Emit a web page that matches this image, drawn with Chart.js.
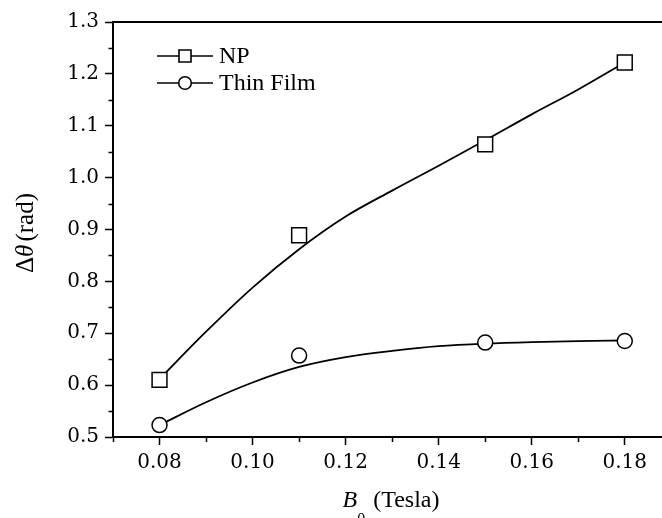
<!DOCTYPE html>
<html>
<head>
<meta charset="utf-8">
<script src="https://cdn.jsdelivr.net/npm/chart.js@4.4.1/dist/chart.umd.min.js"></script>
<style>
  html, body { margin: 0; padding: 0; background: #fff; overflow: hidden; }
  #wrap { width: 662px; height: 518px; }
</style>
</head>
<body>
<div id="wrap"><canvas id="c" width="662" height="518"></canvas></div>
<script>
// ---- data ----
const seriesNames = ['NP', 'Thin Film'];
const measuredB = [0.08, 0.11, 0.15, 0.18];
const npValues = [0.610, 0.889, 1.064, 1.222];
const filmValues = [0.523, 0.657, 0.682, 0.685];

// fitted curves at 0.01 T steps
const fitB = [0.08, 0.09, 0.10, 0.11, 0.12, 0.13, 0.14, 0.15, 0.16, 0.17, 0.18];
const npFit = [0.612, 0.703, 0.788, 0.862, 0.925, 0.975, 1.023, 1.072, 1.122, 1.170, 1.222];
const filmFit = [0.523, 0.567, 0.605, 0.635, 0.654, 0.666, 0.675, 0.680, 0.683, 0.685, 0.686];

// axis ticks
const xTickValues = [0.08, 0.10, 0.12, 0.14, 0.16, 0.18];
const xMinorTicks = [0.07, 0.09, 0.11, 0.13, 0.15, 0.17];
const yTickValues = [0.5, 0.6, 0.7, 0.8, 0.9, 1.0, 1.1, 1.2, 1.3];
const yMinorTicks = [0.55, 0.65, 0.75, 0.85, 0.95, 1.05, 1.15, 1.25];

const toPts = (xs, ys) => xs.map((x, i) => ({ x: x, y: ys[i] }));

const TICK_FONT = { family: 'DejaVu Serif', size: 20 };
const SERIF = '"Liberation Serif", "Times New Roman", serif';

const decorPlugin = {
  id: 'decor',
  afterDraw(chart) {
    const ctx = chart.ctx;
    const ca = chart.chartArea;
    const xs = chart.scales.x, ys = chart.scales.y;
    ctx.save();
    ctx.strokeStyle = '#000';
    ctx.fillStyle = '#000';
    // top frame line
    ctx.lineWidth = 2;
    ctx.beginPath();
    ctx.moveTo(ca.left - 1, ca.top);
    ctx.lineTo(chart.width, ca.top);
    ctx.stroke();
    // minor ticks
    ctx.lineWidth = 1.5;
    ctx.beginPath();
    xMinorTicks.forEach(v => {
      const px = Math.round(xs.getPixelForValue(v)) + 0.5;
      ctx.moveTo(px, ca.bottom);
      ctx.lineTo(px, ca.bottom + 5);
    });
    yMinorTicks.forEach(v => {
      const py = Math.round(ys.getPixelForValue(v)) + 0.5;
      ctx.moveTo(ca.left, py);
      ctx.lineTo(ca.left - 4.5, py);
    });
    ctx.stroke();

    // legend
    const rows = [
      { name: seriesNames[0], style: 'rect', y: 56 },
      { name: seriesNames[1], style: 'circle', y: 83 }
    ];
    rows.forEach(r => {
      ctx.lineWidth = 1.6;
      ctx.beginPath();
      ctx.moveTo(157, r.y);
      ctx.lineTo(213, r.y);
      ctx.stroke();
      ctx.fillStyle = '#fff';
      ctx.beginPath();
      if (r.style === 'rect') {
        ctx.rect(179, r.y - 6, 12, 12);
      } else {
        ctx.arc(185, r.y, 6.3, 0, Math.PI * 2);
      }
      ctx.fill();
      ctx.stroke();
      ctx.fillStyle = '#000';
      ctx.font = '24px ' + SERIF;
      ctx.textBaseline = 'middle';
      ctx.textAlign = 'left';
      ctx.fillText(r.name, 219, r.y + 1);
    });

    // x axis title: B0 (Tesla)
    const fB = 'italic 24px ' + SERIF;
    const fSub = '16px ' + SERIF;
    const fN = '24px ' + SERIF;
    ctx.textBaseline = 'alphabetic';
    ctx.font = fB; const wB = ctx.measureText('B').width;
    ctx.font = fSub; const wS = ctx.measureText('0').width;
    ctx.font = fN; const wT = ctx.measureText(' (Tesla)').width;
    const total = wB + wS + 2 + wT;
    let x0 = 391 - total / 2;
    const base = 507;
    ctx.font = fB; ctx.fillText('B', x0, base); x0 += wB;
    ctx.font = fSub; ctx.fillText('0', x0, base + 17); x0 += wS + 2;
    ctx.font = fN; ctx.fillText(' (Tesla)', x0, base);

    // y axis title: Δθ(rad)
    ctx.save();
    ctx.translate(26, 233);
    ctx.rotate(-Math.PI / 2);
    ctx.textBaseline = 'middle';
    const fY = '25px ' + SERIF, fYi = 'italic 25px ' + SERIF;
    ctx.font = fY; const w1 = ctx.measureText('\u0394').width;
    ctx.font = fYi; const w2 = ctx.measureText('\u03B8').width;
    ctx.font = fY; const w3 = ctx.measureText('(rad)').width;
    let tx = -(w1 + w2 + 3 + w3) / 2;
    ctx.font = fY; ctx.fillText('\u0394', tx, 0); tx += w1;
    ctx.font = fYi; ctx.fillText('\u03B8', tx, 0); tx += w2 + 3;
    ctx.font = fY; ctx.fillText('(rad)', tx, 0);
    ctx.restore();

    ctx.restore();
  }
};

new Chart(document.getElementById('c'), {
  type: 'line',
  data: {
    datasets: [
      {
        label: seriesNames[0] + ' data',
        data: toPts(measuredB, npValues),
        showLine: false,
        pointStyle: 'rect',
        pointRadius: 10.5,
        pointHoverRadius: 10.5,
        pointBackgroundColor: '#fff',
        pointBorderColor: '#000',
        pointBorderWidth: 1.5,
        borderColor: '#000'
      },
      {
        label: seriesNames[1] + ' data',
        data: toPts(measuredB, filmValues),
        showLine: false,
        pointStyle: 'circle',
        pointRadius: 7.5,
        pointHoverRadius: 7.5,
        pointBackgroundColor: '#fff',
        pointBorderColor: '#000',
        pointBorderWidth: 1.5,
        borderColor: '#000'
      },
      {
        label: seriesNames[0] + ' fit',
        data: toPts(fitB, npFit),
        borderColor: '#000',
        borderWidth: 1.8,
        pointRadius: 0,
        cubicInterpolationMode: 'monotone',
        fill: false
      },
      {
        label: seriesNames[1] + ' fit',
        data: toPts(fitB, filmFit),
        borderColor: '#000',
        borderWidth: 1.8,
        pointRadius: 0,
        cubicInterpolationMode: 'monotone',
        fill: false
      }
    ]
  },
  options: {
    responsive: false,
    animation: false,
    events: [],
    layout: { autoPadding: false, padding: { top: 22, right: 0, bottom: 0, left: 0 } },
    plugins: {
      legend: { display: false },
      tooltip: { enabled: false },
      title: { display: false }
    },
    scales: {
      x: {
        type: 'linear',
        min: 0.07,
        max: 0.188,
        afterFit(s) { s.height = 81; s.paddingLeft = 0; s.paddingRight = 0; },
        afterBuildTicks(s) { s.ticks = xTickValues.map(v => ({ value: v })); },
        ticks: {
          font: TICK_FONT,
          color: '#000',
          padding: 6,
          maxRotation: 0,
          autoSkip: false,
          callback: v => Number(v).toFixed(2)
        },
        grid: {
          drawOnChartArea: false,
          drawTicks: true,
          tickLength: 8,
          tickWidth: 1.5,
          tickColor: '#000',
          color: '#000'
        },
        border: { display: true, color: '#000', width: 2 }
      },
      y: {
        type: 'linear',
        min: 0.5,
        max: 1.3,
        afterFit(s) { s.width = 113; s.paddingTop = 0; s.paddingBottom = 0; },
        afterBuildTicks(s) { s.ticks = yTickValues.map(v => ({ value: v })); },
        ticks: {
          font: TICK_FONT,
          color: '#000',
          padding: 6,
          autoSkip: false,
          callback: v => Number(v).toFixed(1)
        },
        grid: {
          drawOnChartArea: false,
          drawTicks: true,
          tickLength: 8,
          tickWidth: 1.5,
          tickColor: '#000',
          color: '#000'
        },
        border: { display: true, color: '#000', width: 2 }
      }
    }
  },
  plugins: [decorPlugin]
});
</script>
</body>
</html>
